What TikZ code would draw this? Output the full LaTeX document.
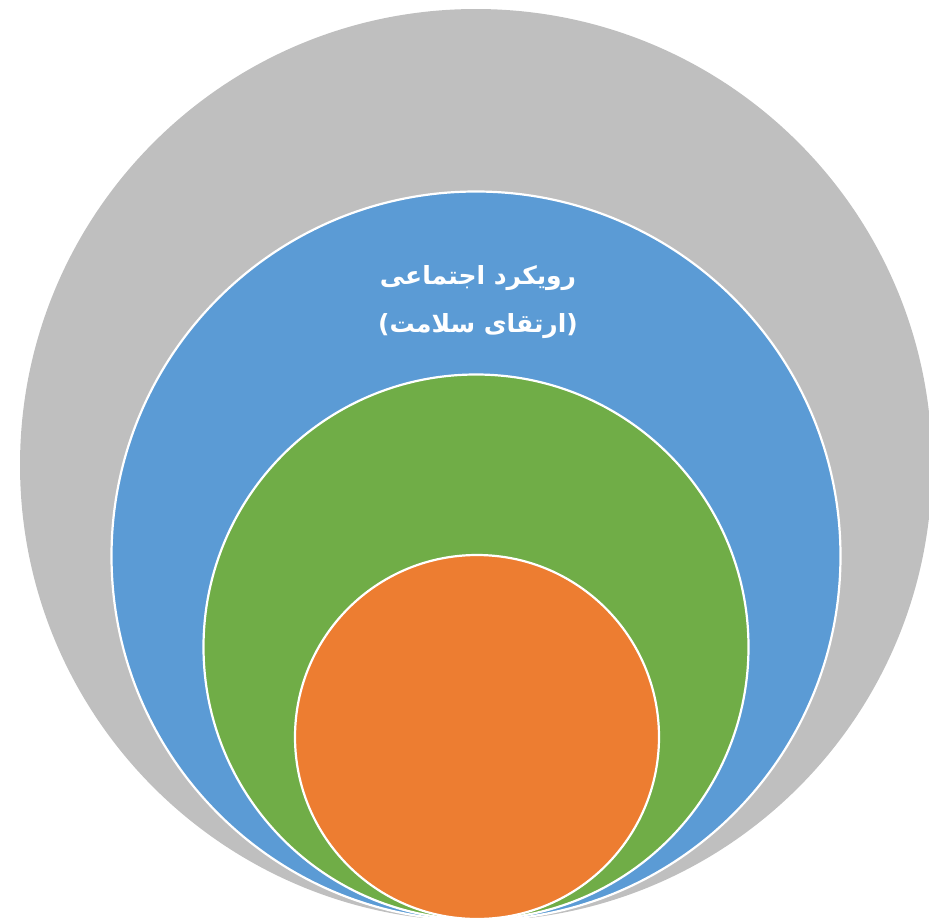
\documentclass[tikz,border=0pt]{standalone}
\usepackage{fontspec}
\TeXXeTstate=1
\newfontfamily\arabicfont[Script=Arabic]{DejaVu Sans}
\definecolor{cgray}{HTML}{BFBFBF}
\definecolor{cblue}{HTML}{5B9BD5}
\definecolor{cgreen}{HTML}{70AD47}
\definecolor{corange}{HTML}{ED7D31}
\begin{document}
\begin{tikzpicture}[x=1pt,y=-1pt,
  ring/.style={circle, inner sep=0pt, line width=2.2pt, draw=white},
  lbl/.style={text=white, font=\arabicfont\bfseries\fontsize{25}{48}\selectfont, align=center}]
\useasboundingbox (0,0) rectangle (929,918);
\clip (0,0) rectangle (929,918);
\fill[cgray] (476,465) circle (456);
\filldraw[ring, fill=cblue] (476,556) circle (364.5);
\filldraw[ring, fill=cgreen] (476,647) circle (272.5);
\filldraw[ring, fill=corange] (477,737) circle (182);
\node[lbl] (title) at (478,302) {\beginR رویکرد اجتماعی\endR\\ )\beginR ارتقای سلامت\endR(};
\end{tikzpicture}
\end{document}
